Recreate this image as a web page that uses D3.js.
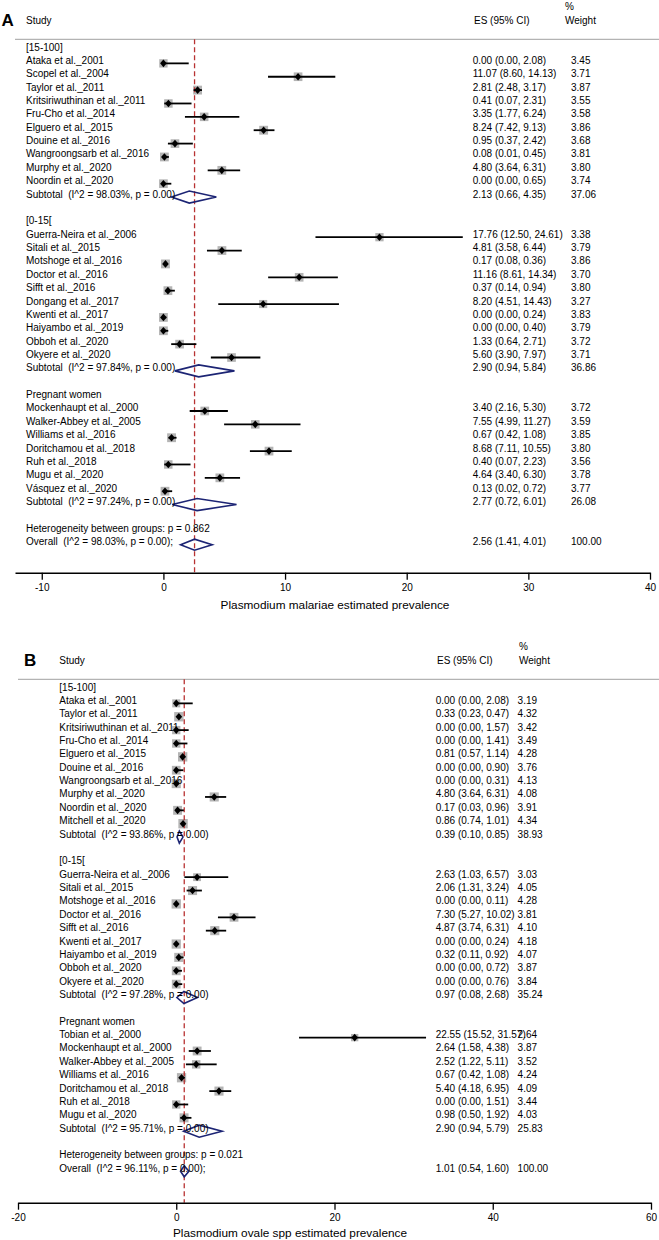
<!DOCTYPE html>
<html><head><meta charset="utf-8">
<script src="https://cdn.jsdelivr.net/npm/d3@7"></script>
<style>
body{margin:0;background:#fff}
svg{display:block}
text{font-family:"Liberation Sans",Arial,Helvetica,sans-serif;fill:#000}
</style>
</head><body>
<svg id="chart" width="659" height="1240"></svg>
<script>
// ---------------- Panel A data (P. malariae) ----------------
const groupLabelsA = ["[15-100]", "[0-15[", "Pregnant women"];
const studiesA = [
  "Ataka et al._2001","Scopel et al._2004","Taylor et al._2011","Kritsiriwuthinan et al._2011",
  "Fru-Cho et al._2014","Elguero et al._2015","Douine et al._2016","Wangroongsarb et al._2016",
  "Murphy et al._2020","Noordin et al._2020",
  "Guerra-Neira et al._2006","Sitali et al._2015","Motshoge et al._2016","Doctor et al._2016",
  "Sifft et al._2016","Dongang et al._2017","Kwenti et al._2017","Haiyambo et al._2019",
  "Obboh et al._2020","Okyere et al._2020",
  "Mockenhaupt et al._2000","Walker-Abbey et al._2005","Williams et al._2016","Doritchamou et al._2018",
  "Ruh et al._2018","Mugu et al._2020","Vásquez et al._2020"
];
const groupOfA = [0,0,0,0,0,0,0,0,0,0, 1,1,1,1,1,1,1,1,1,1, 2,2,2,2,2,2,2];
const esA  = [0.00,11.07,2.81,0.41,3.35,8.24,0.95,0.08,4.80,0.00, 17.76,4.81,0.17,11.16,0.37,8.20,0.00,0.00,1.33,5.60, 3.40,7.55,0.67,8.68,0.40,4.64,0.13];
const loA  = [0.00,8.60,2.48,0.07,1.77,7.42,0.37,0.01,3.64,0.00, 12.50,3.58,0.08,8.61,0.14,4.51,0.00,0.00,0.64,3.90, 2.16,4.99,0.42,7.11,0.07,3.40,0.02];
const hiA  = [2.08,14.13,3.17,2.31,6.24,9.13,2.42,0.45,6.31,0.65, 24.61,6.44,0.36,14.34,0.94,14.43,0.24,0.40,2.71,7.97, 5.30,11.27,1.08,10.55,2.23,6.30,0.72];
const wtA  = [3.45,3.71,3.87,3.55,3.58,3.86,3.68,3.81,3.80,3.74, 3.38,3.79,3.86,3.70,3.80,3.27,3.83,3.79,3.72,3.71, 3.72,3.59,3.85,3.80,3.56,3.78,3.77];
const subI2A = ["98.03","97.84","97.24"];
const subPA  = ["0.00","0.00","0.00"];
const subEsA = [2.13,2.90,2.77];
const subLoA = [0.66,0.94,0.72];
const subHiA = [4.35,5.84,6.01];
const subWtA = [37.06,36.86,26.08];
const overallA = [2.56,1.41,4.01,100.00]; // es, lo, hi, weight
const overallI2A = "98.03";
const hetPA = "0.862";
const ticksA = [-10,0,10,20,30,40];
const xTitleA = "Plasmodium malariae estimated prevalence";

// ---------------- Panel B data (P. ovale spp) ----------------
const groupLabelsB = ["[15-100]", "[0-15[", "Pregnant women"];
const studiesB = [
  "Ataka et al._2001","Taylor et al._2011","Kritsiriwuthinan et al._2011","Fru-Cho et al._2014",
  "Elguero et al._2015","Douine et al._2016","Wangroongsarb et al._2016","Murphy et al._2020",
  "Noordin et al._2020","Mitchell et al._2020",
  "Guerra-Neira et al._2006","Sitali et al._2015","Motshoge et al._2016","Doctor et al._2016",
  "Sifft et al._2016","Kwenti et al._2017","Haiyambo et al._2019","Obboh et al._2020","Okyere et al._2020",
  "Tobian et al._2000","Mockenhaupt et al._2000","Walker-Abbey et al._2005","Williams et al._2016",
  "Doritchamou et al._2018","Ruh et al._2018","Mugu et al._2020"
];
const groupOfB = [0,0,0,0,0,0,0,0,0,0, 1,1,1,1,1,1,1,1,1, 2,2,2,2,2,2,2];
const esB  = [0.00,0.33,0.00,0.00,0.81,0.00,0.00,4.80,0.17,0.86, 2.63,2.06,0.00,7.30,4.87,0.00,0.32,0.00,0.00, 22.55,2.64,2.52,0.67,5.40,0.00,0.98];
const loB  = [0.00,0.23,0.00,0.00,0.57,0.00,0.00,3.64,0.03,0.74, 1.03,1.31,0.00,5.27,3.74,0.00,0.11,0.00,0.00, 15.52,1.58,1.22,0.42,4.18,0.00,0.50];
const hiB  = [2.08,0.47,1.57,1.41,1.14,0.90,0.31,6.31,0.96,1.01, 6.57,3.24,0.11,10.02,6.31,0.24,0.92,0.72,0.76, 31.57,4.38,5.11,1.08,6.95,1.51,1.92];
const wtB  = [3.19,4.32,3.42,3.49,4.28,3.76,4.13,4.08,3.91,4.34, 3.03,4.05,4.28,3.81,4.10,4.18,4.07,3.87,3.84, 2.64,3.87,3.52,4.24,4.09,3.44,4.03];
const subI2B = ["93.86","97.28","95.71"];
const subPB  = ["0.00","0.00","0.00"];
const subEsB = [0.39,0.97,2.90];
const subLoB = [0.10,0.08,0.94];
const subHiB = [0.85,2.68,5.79];
const subWtB = [38.93,35.24,25.83];
const overallB = [1.01,0.54,1.60,100.00];
const overallI2B = "96.11";
const hetPB = "0.021";
const ticksB = [-20,0,20,40,60];
const xTitleB = "Plasmodium ovale spp estimated prevalence";

// ---------------- drawing ----------------
const svg = d3.select("#chart");
const f2 = d3.format(".2f");
const RED = "#b83232", NAVY = "#1c2474", BOX = "#b4b4b4";

function panel(cfg) {
  const g = svg.append("g");
  const x = d3.scaleLinear().domain(cfg.domain).range(cfg.range);

  // build row list
  const rows = [];
  cfg.groups.forEach((gl, gi) => {
    rows.push({type: "group", label: gl});
    cfg.names.forEach((n, i) => {
      if (cfg.groupOf[i] === gi) rows.push({type: "study", label: n, es: cfg.es[i], lo: cfg.lo[i], hi: cfg.hi[i], wt: cfg.wt[i]});
    });
    rows.push({type: "sub", label: `Subtotal  (I^2 = ${cfg.subI2[gi]}%, p = ${cfg.subP[gi]})`,
      es: cfg.subEs[gi], lo: cfg.subLo[gi], hi: cfg.subHi[gi], wt: cfg.subWt[gi]});
    rows.push({type: "blank"});
  });
  rows.push({type: "het", label: `Heterogeneity between groups: p = ${cfg.het}`});
  rows.push({type: "overall", label: `Overall  (I^2 = ${cfg.oI2}%, p = 0.00);`,
    es: cfg.overall[0], lo: cfg.overall[1], hi: cfg.overall[2], wt: cfg.overall[3]});
  const yRow = k => cfg.y0 + cfg.step * k;
  rows.forEach((r, k) => r.y = yRow(k));

  // headers
  g.append("text").attr("x", cfg.letterX).attr("y", cfg.letterY)
    .style("font-size", "17px").style("font-weight", "bold").text(cfg.letter);
  g.append("text").attr("x", cfg.nameX).attr("y", cfg.headY).style("font-size", "10px").text("Study");
  g.append("text").attr("x", cfg.esHeadX).attr("y", cfg.headY).style("font-size", "10px").text("ES (95% CI)");
  g.append("text").attr("x", cfg.wtHeadX).attr("y", cfg.headY - 14).style("font-size", "10px").text("%");
  g.append("text").attr("x", cfg.wtHeadX).attr("y", cfg.headY).style("font-size", "10px").text("Weight");
  g.append("line").attr("x1", cfg.range[0]).attr("x2", 659)
    .attr("y1", cfg.lineY).attr("y2", cfg.lineY)
    .attr("stroke", "#a0a0a0").attr("stroke-width", 1);

  const studies = rows.filter(r => r.type === "study");

  // weight boxes
  g.selectAll(".box").data(studies).join("rect")
    .attr("x", d => x(d.es) - cfg.boxK * Math.sqrt(d.wt) / 2)
    .attr("y", d => d.y - cfg.boxK * Math.sqrt(d.wt) / 2)
    .attr("width", d => cfg.boxK * Math.sqrt(d.wt))
    .attr("height", d => cfg.boxK * Math.sqrt(d.wt))
    .attr("fill", BOX);

  // overall dashed line
  g.append("line").attr("x1", x(cfg.overall[0])).attr("x2", x(cfg.overall[0]))
    .attr("y1", cfg.lineY).attr("y2", cfg.axisY)
    .attr("stroke", RED).attr("stroke-width", 1.3).attr("stroke-dasharray", "5,3");

  // CI lines
  g.selectAll(".ci").data(studies).join("line")
    .attr("x1", d => x(d.lo)).attr("x2", d => x(d.hi))
    .attr("y1", d => d.y).attr("y2", d => d.y)
    .attr("stroke", "#000").attr("stroke-width", 1.8);

  // point markers
  g.selectAll(".pt").data(studies).join("path")
    .attr("d", d => {
      const cx = x(d.es), cy = d.y, w = 3.3, h = 3.8;
      return `M${cx - w},${cy}L${cx},${cy - h}L${cx + w},${cy}L${cx},${cy + h}Z`;
    })
    .attr("fill", "#000");

  // pooled diamonds
  const pooled = rows.filter(r => r.type === "sub" || r.type === "overall");
  g.selectAll(".dia").data(pooled).join("path")
    .attr("d", d => {
      const h = d.type === "overall" ? 5.5 : 6;
      return `M${x(d.lo)},${d.y}L${x(d.es)},${d.y - h}L${x(d.hi)},${d.y}L${x(d.es)},${d.y + h}Z`;
    })
    .attr("fill", "none").attr("stroke", NAVY).attr("stroke-width", 1.6)
    .attr("stroke-linejoin", "miter");

  // left labels
  g.selectAll(".lab").data(rows.filter(r => r.type !== "blank")).join("text")
    .attr("x", cfg.nameX).attr("y", d => d.y + 0.5)
    .style("font-size", "10px").style("white-space", "pre")
    .text(d => d.label);

  // ES and weight columns
  const valued = rows.filter(r => r.es !== undefined);
  g.selectAll(".es").data(valued).join("text")
    .attr("x", cfg.esX).attr("y", d => d.y + 0.5).style("font-size", "10px")
    .text(d => `${f2(d.es)} (${f2(d.lo)}, ${f2(d.hi)})`);
  g.selectAll(".wt").data(valued).join("text")
    .attr("x", cfg.wtX).attr("y", d => d.y + 0.5).style("font-size", "10px")
    .text(d => f2(d.wt));

  // axis
  const ax = g.append("g").attr("transform", `translate(0,${cfg.axisY})`)
    .call(d3.axisBottom(x).tickValues(cfg.ticks).tickSize(7).tickSizeOuter(0).tickPadding(4)
      .tickFormat(d => String(d)));
  ax.select(".domain").attr("stroke", "#000").attr("stroke-width", 1.6);
  ax.selectAll(".tick line").attr("stroke", "#000").attr("stroke-width", 1.3);
  ax.selectAll(".tick text").style("font-size", "10px")
    .style("font-family", '"Liberation Sans",Arial,sans-serif').attr("fill", "#000");

  g.append("text").attr("x", cfg.titleX).attr("y", cfg.titleY)
    .attr("text-anchor", "middle").style("font-size", "11.8px").text(cfg.xTitle);
}

panel({
  letter: "A", letterX: 1.5, letterY: 26,
  groups: groupLabelsA, names: studiesA, groupOf: groupOfA,
  es: esA, lo: loA, hi: hiA, wt: wtA,
  subI2: subI2A, subP: subPA, subEs: subEsA, subLo: subLoA, subHi: subHiA, subWt: subWtA,
  overall: overallA, oI2: overallI2A, het: hetPA, ticks: ticksA, xTitle: xTitleA,
  domain: [-12.2, 40], range: [15, 650],
  headY: 23.6, lineY: 39.3, nameX: 26, esX: 472.7, wtX: 571, esHeadX: 474, wtHeadX: 565,
  y0: 50, step: 13.37, axisY: 572.7, titleX: 335, titleY: 609, boxK: 4.5
});

panel({
  letter: "B", letterX: 24, letterY: 666,
  groups: groupLabelsB, names: studiesB, groupOf: groupOfB,
  es: esB, lo: loB, hi: hiB, wt: wtB,
  subI2: subI2B, subP: subPB, subEs: subEsB, subLo: subLoB, subHi: subHiB, subWt: subWtB,
  overall: overallB, oI2: overallI2B, het: hetPB, ticks: ticksB, xTitle: xTitleB,
  domain: [-20, 60], range: [18, 651],
  headY: 663.6, lineY: 679.3, nameX: 59.3, esX: 435.7, wtX: 517.6, esHeadX: 437, wtHeadX: 519,
  y0: 690, step: 13.37, axisY: 1202.7, titleX: 290, titleY: 1236.5, boxK: 4.5
});
</script>
</body></html>
